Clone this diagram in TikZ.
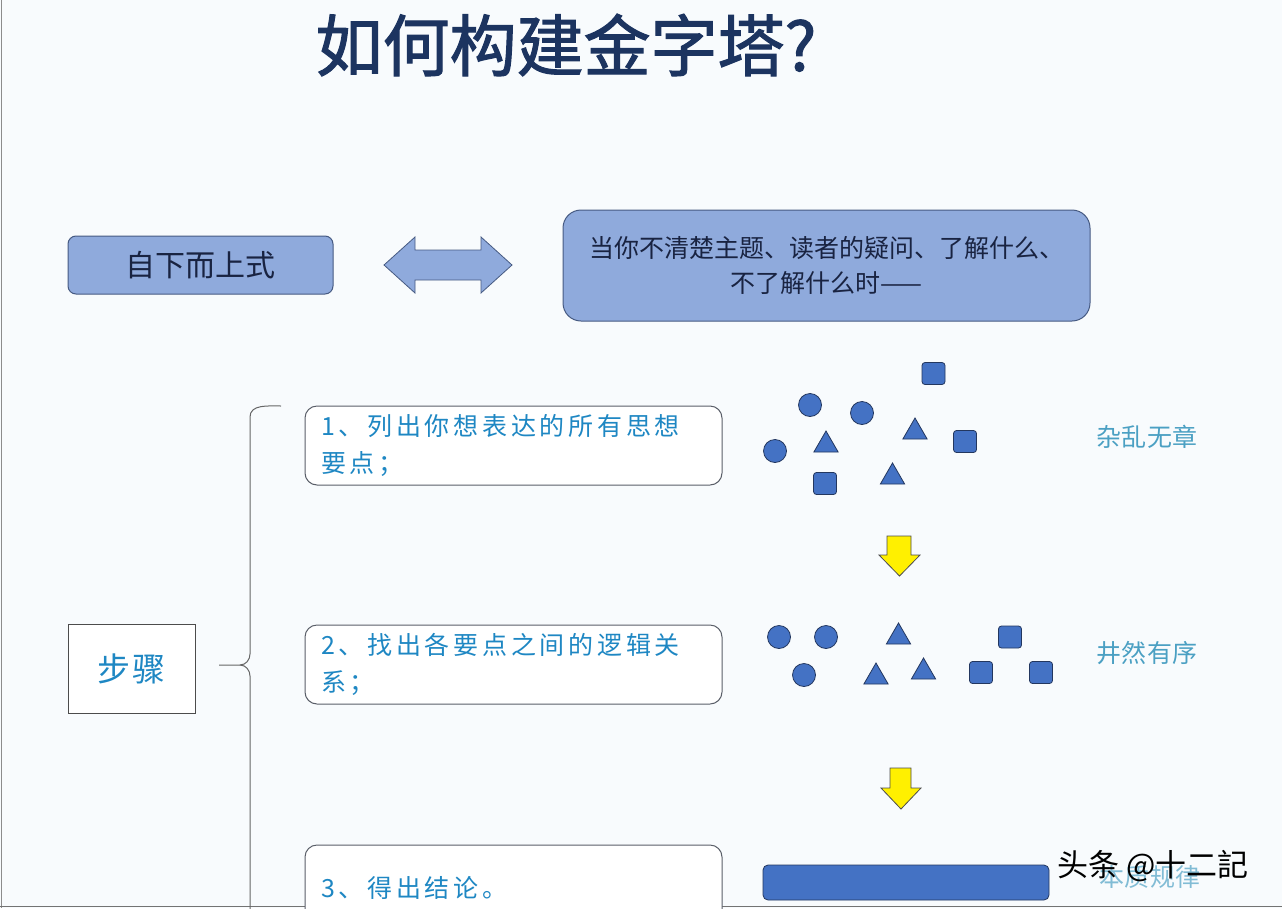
\documentclass[tikz,border=0pt]{standalone}
\usepackage{fontspec}
\newfontfamily\cjk{Noto Sans CJK SC}
\newfontfamily\cjktitle{Noto Sans CJK SC}[FakeBold=1.6]
\usetikzlibrary{shapes.geometric}
\definecolor{bg}{RGB}{248,251,253}
\definecolor{titlec}{RGB}{28,52,96}
\definecolor{boxfill}{RGB}{143,170,220}
\definecolor{boxline}{RGB}{70,90,130}
\definecolor{darktext}{RGB}{25,35,65}
\definecolor{steptext}{RGB}{30,135,195}
\definecolor{labeltext}{RGB}{75,160,195}
\definecolor{shapefill}{RGB}{68,114,196}
\definecolor{shapeline}{RGB}{35,55,95}
\definecolor{yel}{RGB}{255,240,0}
\definecolor{graybox}{RGB}{90,95,105}
\tikzset{
  fs/.style={font=\cjk\fontsize{#1}{#1}\selectfont},
  bluebox/.style={draw=boxline, line width=1pt, fill=boxfill, text=darktext},
  stepbox/.style={draw=graybox, line width=1pt, fill=white, rounded corners=12pt,
    text width=385pt, inner xsep=16pt, minimum height=79pt, align=left,
    text=steptext, font=\cjk\fontsize{25}{37}\selectfont\addfontfeature{LetterSpace=15}},
  circ/.style={circle, draw=shapeline, fill=shapefill, line width=0.8pt, minimum size=23pt, inner sep=0pt},
  sq/.style={rectangle, draw=shapeline, fill=shapefill, line width=0.8pt, minimum width=23pt, minimum height=22pt, rounded corners=3pt, inner sep=0pt},
  tri/.style={regular polygon, regular polygon sides=3, draw=shapeline, fill=shapefill, line width=0.8pt, minimum size=28pt, inner sep=0pt},
  yarrow/.style={draw=black!70, fill=yel, line width=0.8pt, line join=miter},
  lbl/.style={text=labeltext, font=\cjk\fontsize{25}{25}\selectfont\addfontfeature{LetterSpace=2}},
}
\begin{document}
\begin{tikzpicture}[x=1pt,y=-1pt]
\useasboundingbox (0,0) rectangle (1282,908);
\fill[bg] (0,0) rectangle (1282,908);
\clip (0,0) rectangle (1282,908);
\draw[color=black!45, line width=1pt] (1,0) -- (1,908);
\draw[color=black!55, line width=1.2pt] (0,906.5) -- (1282,906.5);

% title
\node[text=titlec, font=\cjktitle\fontsize{67}{67}\selectfont] (title) at (566,45) {如何构建金字塔?};

% top row
\node[bluebox, rounded corners=8pt, minimum width=265pt, minimum height=58pt, fs=30] (bottomup) at (200.5,265) {自下而上式};
\draw[draw=boxline, fill=boxfill, line width=0.8pt] (384,265) -- (415,237) -- (415,250) -- (481,250)
  -- (481,237) -- (512,265) -- (481,293) -- (481,280) -- (415,280) -- (415,293) -- cycle;
\node[bluebox, rounded corners=18pt, minimum width=527pt, minimum height=111pt, align=center,
  font=\cjk\fontsize{25}{35}\selectfont] (when) at (826.5,265.5) {当你不清楚主题、读者的疑问、了解什么、\\不了解什么时——};

% steps
\node[draw=black!70, line width=1pt, fill=white, minimum width=127pt, minimum height=89pt,
  text=steptext, font=\cjk\fontsize{33}{33}\selectfont\addfontfeature{LetterSpace=6}] (steps) at (131.5,668.5) {步骤};
\node[stepbox] (s1) at (513.5,445.5) {1、列出你想表达的所有思想\\要点；};
\node[stepbox] (s2) at (513.5,664.5) {2、找出各要点之间的逻辑关\\系；};
\node[stepbox, minimum height=86pt] (s3) at (513.5,888) {3、得出结论。};

% bracket
\coordinate (btop) at (281,406);
\coordinate (btip) at (219,665);
\coordinate (bbot) at (250,910);
\draw[color=black!60, line width=1pt] (btop) to[out=180,in=90] (250,417) -- (250,654)
  to[out=270,in=0] (240,665) -- (btip);
\draw[color=black!60, line width=1pt] (240,665) to[out=0,in=90] (250,676) -- (bbot);

% group 1: scattered
\node[sq] (a1) at (933.5,373.5) {};
\node[circ] (a2) at (810,405) {};
\node[circ] (a3) at (862,413) {};
\node[tri] (a4) at (915,432) {};
\node[sq] (a5) at (965,441.5) {};
\node[circ] (a6) at (775,451) {};
\node[tri] (a7) at (826,445) {};
\node[sq] (a8) at (825,483.5) {};
\node[tri] (a9) at (892.5,477) {};
\node[lbl] (l1) at (1147,437) {杂乱无章};

\draw[yarrow] (887,536) -- (911,536) -- (911,555) -- (920,555) -- (899.5,576) -- (879,555) -- (887,555) -- cycle;

% group 2: ordered
\node[circ] (b1) at (779,637) {};
\node[circ] (b2) at (826,637) {};
\node[circ] (b3) at (804,675) {};
\node[tri] (b4) at (898.5,637) {};
\node[tri] (b5) at (876,677) {};
\node[tri] (b6) at (923.5,672) {};
\node[sq] (b7) at (1010,637) {};
\node[sq] (b8) at (981,672.5) {};
\node[sq] (b9) at (1041,672.5) {};
\node[lbl] (l2) at (1147,653) {井然有序};

\draw[yarrow] (890,768) -- (911,768) -- (911,788) -- (921,788) -- (901,809) -- (881,788) -- (890,788) -- cycle;

% group 3
\node[rectangle, draw=shapeline, fill=shapefill, line width=0.8pt, rounded corners=5pt,
  minimum width=286pt, minimum height=35pt, inner sep=0pt] (bar) at (906,882.5) {};
\node[lbl, text=labeltext!70] (l3) at (1150,877) {本质规律};

% watermark
\node[text=black, font=\cjk\fontsize{31}{31}\selectfont] (wm) at (1153,866) {头条 @十二記};
\end{tikzpicture}
\end{document}
